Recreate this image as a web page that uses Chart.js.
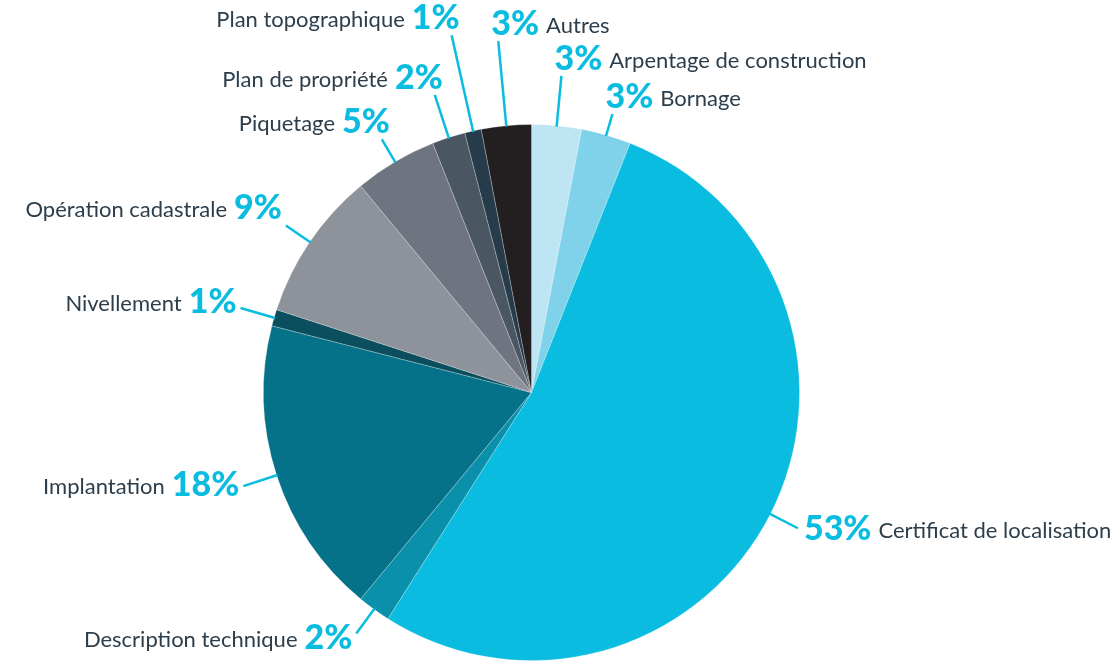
<!DOCTYPE html>
<html lang="fr">
<head>
    <meta charset="UTF-8">
    <title>Répartition des mandats</title>
    <style>
        html, body { margin: 0; padding: 0; background: #fff; }
        #wrap { width: 1120px; height: 661px; }
    </style>
</head>
<body>
    <div id="wrap">
        <canvas id="myChart"></canvas>
    </div>
    <script src="https://cdn.jsdelivr.net/npm/chart.js"></script>
    <script>
        // data, clockwise from 12 o'clock
        const v_labels = ["Arpentage de construction", "Bornage", "Certificat de localisation",
            "Description technique", "Implantation", "Nivellement", "Opération cadastrale",
            "Piquetage", "Plan de propriété", "Plan topographique", "Autres"];
        const v_values = [3, 3, 53, 2, 18, 1, 9, 5, 2, 1, 3];

        const v_colors = ["#bde5f3", "#7fd2ea", "#0abce0", "#0a90aa", "#06728a", "#0b4e5d",
            "#8d929b", "#6f7580", "#4a5661", "#263c4a", "#231f20"];

        // leader line length + where the text sits (tl/tr = above, l/r = beside)
        const v_leaders = [
            {len: 50, side: "tr", dy: 0},
            {len: 22, side: "tr", dy: 0},
            {len: 31, side: "r", dy: 0},
            {len: 30, side: "l", dy: 3},
            {len: 35, side: "l", dy: -2},
            {len: 35, side: "l", dy: -7},
            {len: 29, side: "l", dy: -19},
            {len: 26, side: "tl", dy: 0},
            {len: 45, side: "tl", dy: 0},
            {len: 98, side: "tl", dy: 0},
            {len: 85, side: "tr", dy: 0}
        ];

        const cyan = "#0abde0";
        const textColor = "#2c3e4b";
        const pctFont = "900 34px Lato";
        const nameFont = "22px Lato";

        const leaderPlugin = {
            id: "leaders",
            afterDatasetsDraw(chart) {
                const ctx = chart.ctx;
                const meta = chart.getDatasetMeta(0);
                meta.data.forEach((arc, i) => {
                    const p = arc.getProps(["x", "y", "startAngle", "endAngle", "outerRadius"], true);
                    const a = (p.startAngle + p.endAngle) / 2;
                    const cx = Math.cos(a), cy = Math.sin(a);
                    const L = v_leaders[i];
                    const x0 = p.x + cx * (p.outerRadius - 1), y0 = p.y + cy * (p.outerRadius - 1);
                    const x1 = p.x + cx * (p.outerRadius + L.len), y1 = p.y + cy * (p.outerRadius + L.len);

                    ctx.save();
                    ctx.strokeStyle = cyan;
                    ctx.lineWidth = 2.5;
                    ctx.beginPath();
                    ctx.moveTo(x0, y0);
                    ctx.lineTo(x1, y1);
                    ctx.stroke();

                    const pct = v_values[i] + "%";
                    const name = v_labels[i];
                    ctx.font = pctFont;
                    const wp = ctx.measureText(pct).width;
                    ctx.font = nameFont;
                    const wn = ctx.measureText(name).width;
                    const gap = 7;

                    let baseY, pctX;
                    if (L.side === "tl") { baseY = y1 - 6; pctX = x1 + 8 - wp; }
                    else if (L.side === "tr") { baseY = y1 - 6; pctX = x1 - 7; }
                    else if (L.side === "l") { baseY = y1 + 12 + L.dy; pctX = x1 - 4 - wp; }
                    else { baseY = y1 + 12 + L.dy; pctX = x1 + 6; }

                    ctx.textBaseline = "alphabetic";
                    ctx.textAlign = "left";
                    ctx.fillStyle = cyan;
                    ctx.font = pctFont;
                    ctx.fillText(pct, pctX, baseY);

                    ctx.fillStyle = textColor;
                    ctx.font = nameFont;
                    const right = (L.side === "tr" || L.side === "r");
                    const nx = right ? pctX + wp + gap : pctX - gap - wn;
                    ctx.fillText(name, nx, baseY - 2);
                    ctx.restore();
                });
            }
        };

        const ctx = document.getElementById("myChart");

        new Chart(ctx, {
            type: "pie",
            data: {
                labels: v_labels,
                datasets: [{
                    data: v_values,
                    backgroundColor: v_colors,
                    borderColor: "rgba(255,255,255,0.25)",
                    borderWidth: 1
                }]
            },
            options: {
                responsive: true,
                maintainAspectRatio: false,
                animation: false,
                layout: {
                    padding: {top: 124, bottom: 0, left: 0, right: 57}
                },
                plugins: {
                    legend: {display: false},
                    tooltip: {enabled: false}
                }
            },
            plugins: [leaderPlugin]
        });
    </script>
</body>
</html>
